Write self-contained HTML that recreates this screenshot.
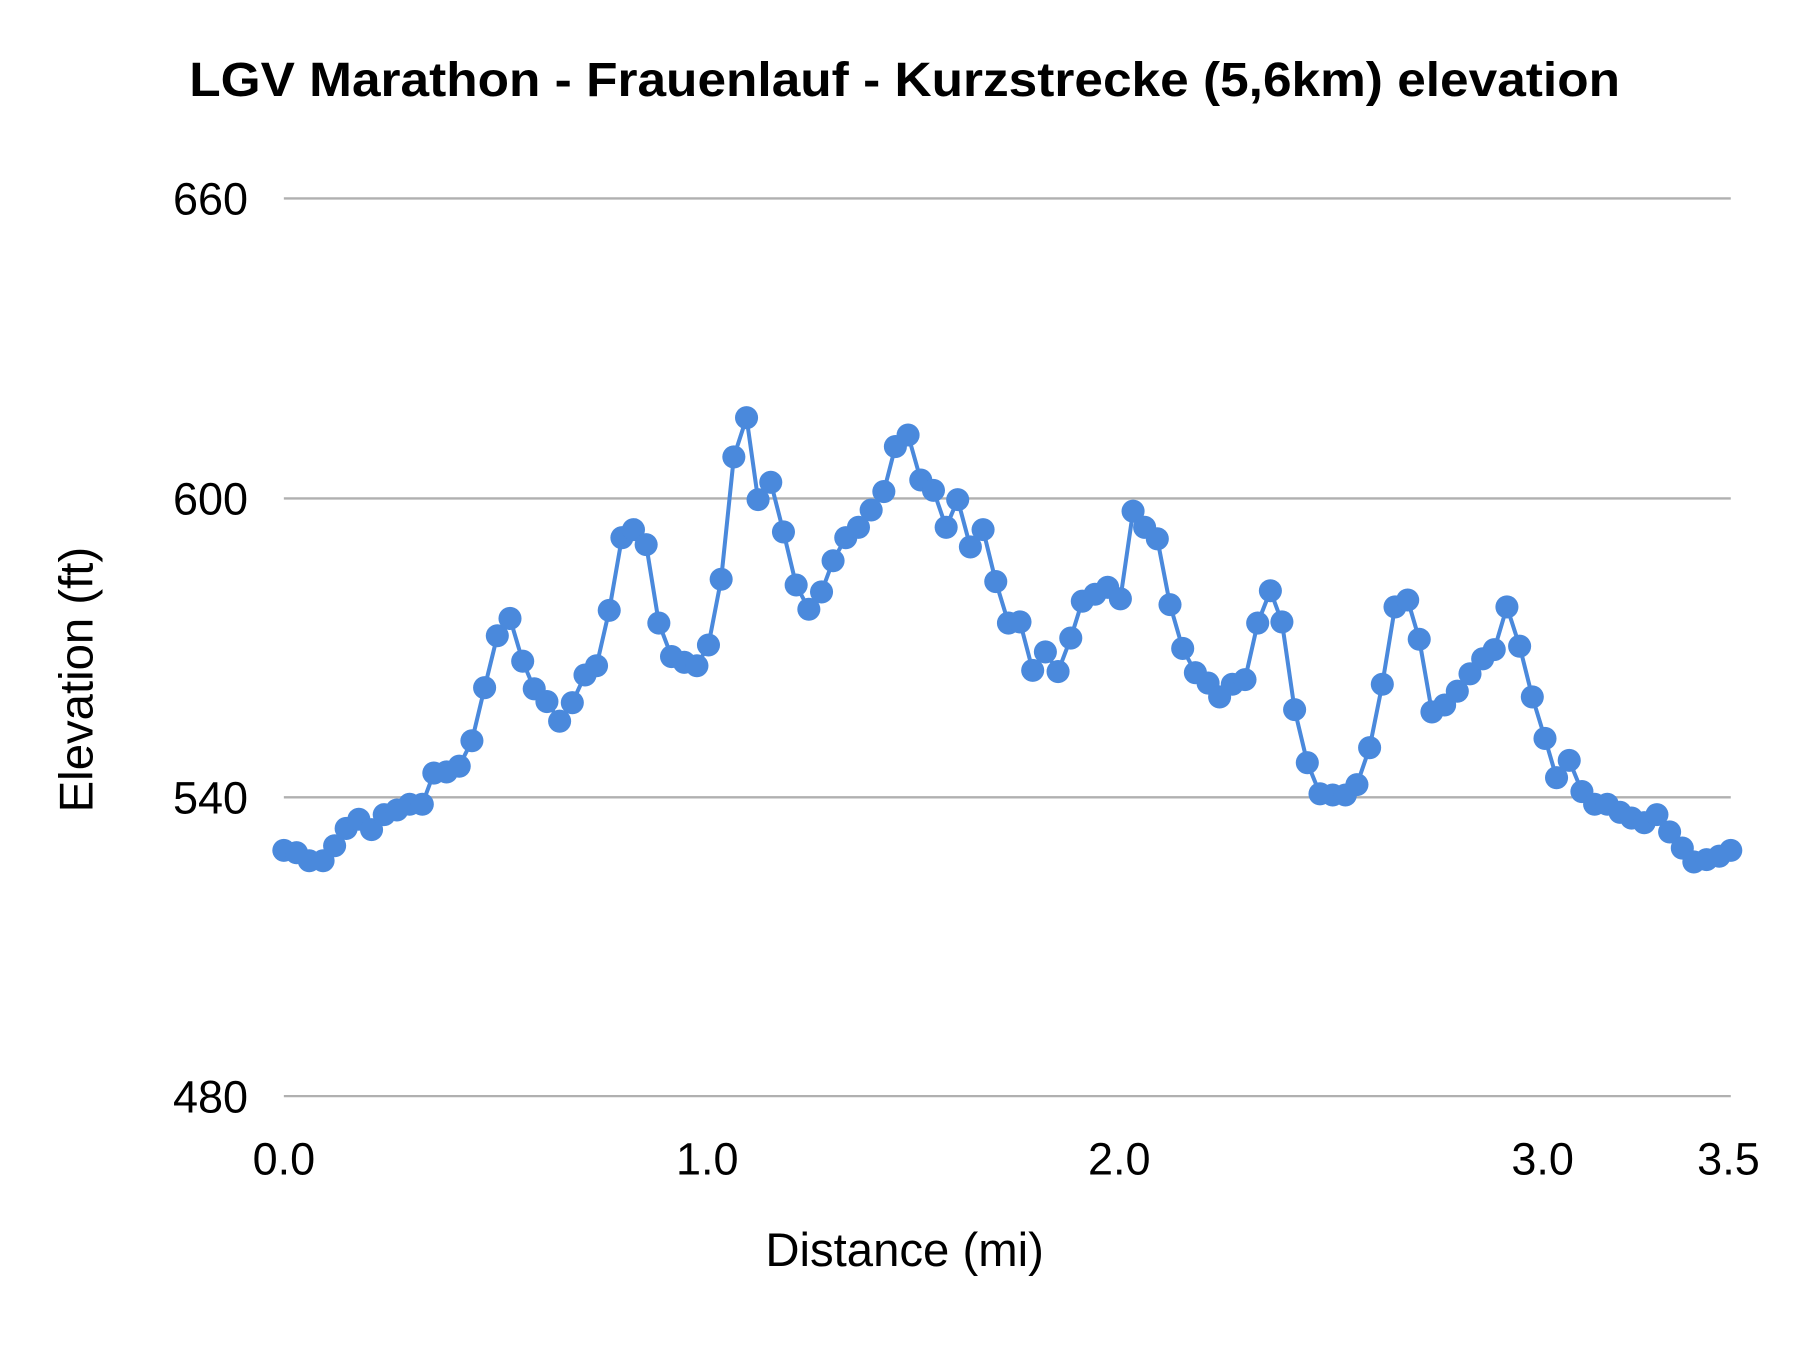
<!DOCTYPE html>
<html><head><meta charset="utf-8"><style>html,body{margin:0;padding:0;background:#fff}svg{display:block}</style></head>
<body>
<svg width="1800" height="1350" viewBox="0 0 1560 1170" xmlns="http://www.w3.org/2000/svg" font-family="Liberation Sans, sans-serif">
<rect width="1560" height="1170" fill="#fff"/>
<text x="784" y="83" text-anchor="middle" font-size="42" font-weight="bold" fill="#000" textLength="1240" lengthAdjust="spacingAndGlyphs">LGV Marathon - Frauenlauf - Kurzstrecke (5,6km) elevation</text>
<g stroke="#b0b0b0" stroke-width="2">
<line x1="246" y1="172" x2="1500" y2="172"/><line x1="246" y1="432" x2="1500" y2="432"/><line x1="246" y1="691" x2="1500" y2="691"/><line x1="246" y1="950" x2="1500" y2="950"/>
</g>
<g font-size="39" fill="#000" text-anchor="end">
<text x="215" y="186">660</text><text x="215" y="446">600</text><text x="215" y="705">540</text><text x="215" y="964">480</text>
</g>
<g font-size="39" fill="#000" text-anchor="middle">
<text x="246" y="1018">0.0</text><text x="613" y="1018">1.0</text><text x="970" y="1018">2.0</text><text x="1337" y="1018">3.0</text><text x="1498" y="1018">3.5</text>
</g>
<text x="784" y="1097" text-anchor="middle" font-size="41" fill="#000">Distance (mi)</text>
<text transform="translate(80,589) rotate(-90)" text-anchor="middle" font-size="41" fill="#000">Elevation (ft)</text>
<polyline fill="none" stroke="#4a89dc" stroke-width="3.5" stroke-linejoin="round" points="246,737 257,739 268,746 280,746 290,733 300,718 311,710 322,719 333,706 344,702 355,697 366,697 376,670 387,669 398,664 409,642 420,596 431,551 442,536 453,573 463,597 474,608 485,625 496,609 507,585 517,577 528,529 539,466 549,459 560,472 571,540 582,569 593,574 604,577 614,559 625,502 636,396 647,362 657,433 668,418 679,461 690,507 701,528 712,513 722,486 733,466 744,457 755,442 766,426 776,387 787,377 798,416 809,425 820,457 830,433 841,474 852,459 863,504 874,540 884,539 895,581 906,565 917,582 928,553 938,521 949,515 960,509 971,519 982,443 992,457 1003,467 1014,524 1025,562 1036,583 1047,592 1057,604 1068,593 1079,589 1090,540 1101,512 1111,539 1122,615 1133,661 1144,688 1155,689 1166,689 1176,680 1187,648 1198,593 1209,526 1220,520 1230,554 1241,617 1252,611 1263,599 1274,584 1285,571 1295,563 1306,526 1317,560 1328,604 1339,640 1349,674 1360,659 1371,686 1382,697 1393,697 1404,704 1414,709 1425,713 1436,706 1447,721 1458,735 1468,747 1479,745 1490,742 1500,737"/>
<g fill="#4a89dc">
<circle cx="246" cy="737" r="10"/><circle cx="257" cy="739" r="10"/><circle cx="268" cy="746" r="10"/><circle cx="280" cy="746" r="10"/><circle cx="290" cy="733" r="10"/><circle cx="300" cy="718" r="10"/><circle cx="311" cy="710" r="10"/><circle cx="322" cy="719" r="10"/><circle cx="333" cy="706" r="10"/><circle cx="344" cy="702" r="10"/><circle cx="355" cy="697" r="10"/><circle cx="366" cy="697" r="10"/><circle cx="376" cy="670" r="10"/><circle cx="387" cy="669" r="10"/><circle cx="398" cy="664" r="10"/><circle cx="409" cy="642" r="10"/><circle cx="420" cy="596" r="10"/><circle cx="431" cy="551" r="10"/><circle cx="442" cy="536" r="10"/><circle cx="453" cy="573" r="10"/><circle cx="463" cy="597" r="10"/><circle cx="474" cy="608" r="10"/><circle cx="485" cy="625" r="10"/><circle cx="496" cy="609" r="10"/><circle cx="507" cy="585" r="10"/><circle cx="517" cy="577" r="10"/><circle cx="528" cy="529" r="10"/><circle cx="539" cy="466" r="10"/><circle cx="549" cy="459" r="10"/><circle cx="560" cy="472" r="10"/><circle cx="571" cy="540" r="10"/><circle cx="582" cy="569" r="10"/><circle cx="593" cy="574" r="10"/><circle cx="604" cy="577" r="10"/><circle cx="614" cy="559" r="10"/><circle cx="625" cy="502" r="10"/><circle cx="636" cy="396" r="10"/><circle cx="647" cy="362" r="10"/><circle cx="657" cy="433" r="10"/><circle cx="668" cy="418" r="10"/><circle cx="679" cy="461" r="10"/><circle cx="690" cy="507" r="10"/><circle cx="701" cy="528" r="10"/><circle cx="712" cy="513" r="10"/><circle cx="722" cy="486" r="10"/><circle cx="733" cy="466" r="10"/><circle cx="744" cy="457" r="10"/><circle cx="755" cy="442" r="10"/><circle cx="766" cy="426" r="10"/><circle cx="776" cy="387" r="10"/><circle cx="787" cy="377" r="10"/><circle cx="798" cy="416" r="10"/><circle cx="809" cy="425" r="10"/><circle cx="820" cy="457" r="10"/><circle cx="830" cy="433" r="10"/><circle cx="841" cy="474" r="10"/><circle cx="852" cy="459" r="10"/><circle cx="863" cy="504" r="10"/><circle cx="874" cy="540" r="10"/><circle cx="884" cy="539" r="10"/><circle cx="895" cy="581" r="10"/><circle cx="906" cy="565" r="10"/><circle cx="917" cy="582" r="10"/><circle cx="928" cy="553" r="10"/><circle cx="938" cy="521" r="10"/><circle cx="949" cy="515" r="10"/><circle cx="960" cy="509" r="10"/><circle cx="971" cy="519" r="10"/><circle cx="982" cy="443" r="10"/><circle cx="992" cy="457" r="10"/><circle cx="1003" cy="467" r="10"/><circle cx="1014" cy="524" r="10"/><circle cx="1025" cy="562" r="10"/><circle cx="1036" cy="583" r="10"/><circle cx="1047" cy="592" r="10"/><circle cx="1057" cy="604" r="10"/><circle cx="1068" cy="593" r="10"/><circle cx="1079" cy="589" r="10"/><circle cx="1090" cy="540" r="10"/><circle cx="1101" cy="512" r="10"/><circle cx="1111" cy="539" r="10"/><circle cx="1122" cy="615" r="10"/><circle cx="1133" cy="661" r="10"/><circle cx="1144" cy="688" r="10"/><circle cx="1155" cy="689" r="10"/><circle cx="1166" cy="689" r="10"/><circle cx="1176" cy="680" r="10"/><circle cx="1187" cy="648" r="10"/><circle cx="1198" cy="593" r="10"/><circle cx="1209" cy="526" r="10"/><circle cx="1220" cy="520" r="10"/><circle cx="1230" cy="554" r="10"/><circle cx="1241" cy="617" r="10"/><circle cx="1252" cy="611" r="10"/><circle cx="1263" cy="599" r="10"/><circle cx="1274" cy="584" r="10"/><circle cx="1285" cy="571" r="10"/><circle cx="1295" cy="563" r="10"/><circle cx="1306" cy="526" r="10"/><circle cx="1317" cy="560" r="10"/><circle cx="1328" cy="604" r="10"/><circle cx="1339" cy="640" r="10"/><circle cx="1349" cy="674" r="10"/><circle cx="1360" cy="659" r="10"/><circle cx="1371" cy="686" r="10"/><circle cx="1382" cy="697" r="10"/><circle cx="1393" cy="697" r="10"/><circle cx="1404" cy="704" r="10"/><circle cx="1414" cy="709" r="10"/><circle cx="1425" cy="713" r="10"/><circle cx="1436" cy="706" r="10"/><circle cx="1447" cy="721" r="10"/><circle cx="1458" cy="735" r="10"/><circle cx="1468" cy="747" r="10"/><circle cx="1479" cy="745" r="10"/><circle cx="1490" cy="742" r="10"/><circle cx="1500" cy="737" r="10"/>
</g>
</svg>
</body></html>
